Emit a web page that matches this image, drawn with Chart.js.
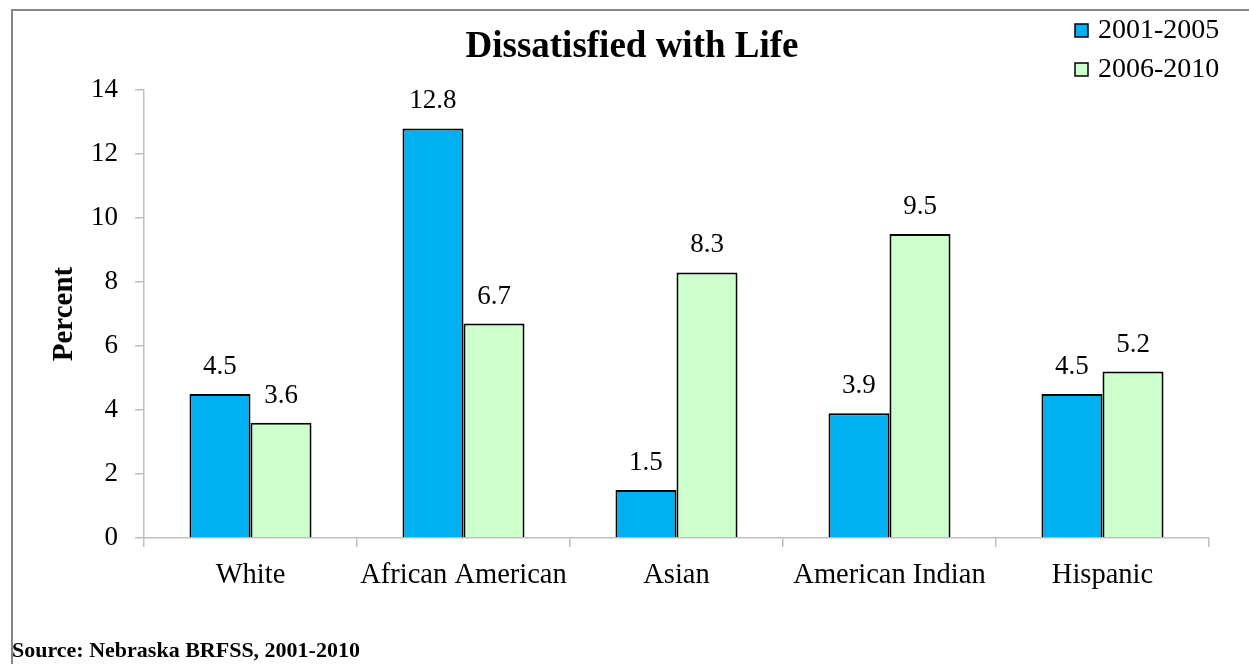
<!DOCTYPE html>
<html>
<head>
<meta charset="utf-8">
<title>Dissatisfied with Life</title>
<script src="https://cdn.jsdelivr.net/npm/chart.js@4/dist/chart.umd.min.js"></script>
<style>
  html, body { margin: 0; padding: 0; background: #ffffff; }
  #wrap { position: relative; width: 1249px; height: 664px; }
  canvas { display: block; }
</style>
</head>
<body>
<div id="wrap"><canvas id="chart" width="1249" height="664"></canvas></div>
<script>
// Groups on the x axis
const categories = ["White", "African American", "Asian", "American Indian", "Hispanic"];
// Series names
const seriesNames = ["2001-2005", "2006-2010"];
// Percent dissatisfied with life, by period
const values2001to2005 = [4.5, 12.8, 1.5, 3.9, 4.5];
const values2006to2010 = [3.6, 6.7, 8.3, 9.5, 5.2];
// Y axis range
const yMin = 0;
const yMax = 14;
const yStep = 2;

const chartTitle = "Dissatisfied with Life";
const yAxisTitle = "Percent";
const sourceNote = "Source: Nebraska BRFSS, 2001-2010";

const SERIF = '"Liberation Serif", "Times New Roman", Times, serif';
const AXIS_GRAY = "#bfbfbf";

// Frame, title, legend, source line and value labels
const decorations = {
  id: "decorations",
  beforeDraw(chart) {
    const ctx = chart.ctx;
    ctx.save();
    ctx.fillStyle = "#ffffff";
    ctx.fillRect(0, 0, chart.width, chart.height);
    // outer frame (open to the right and bottom)
    ctx.strokeStyle = "#868686";
    ctx.lineWidth = 2;
    ctx.beginPath();
    ctx.moveTo(12, chart.height);
    ctx.lineTo(12, 10);
    ctx.lineTo(chart.width, 10);
    ctx.stroke();
    ctx.restore();
  },
  afterDatasetsDraw(chart) {
    const ctx = chart.ctx;
    ctx.save();
    // value labels above each bar
    ctx.fillStyle = "#000000";
    ctx.font = "27px " + SERIF;
    ctx.textAlign = "center";
    ctx.textBaseline = "alphabetic";
    chart.data.datasets.forEach((ds, di) => {
      const meta = chart.getDatasetMeta(di);
      meta.data.forEach((bar, i) => {
        ctx.fillText(ds.data[i].toFixed(1), bar.x, bar.y - 20);
      });
    });

    // title
    ctx.font = "bold 37px " + SERIF;
    ctx.fillText(chartTitle, 632, 57);

    // legend
    ctx.textAlign = "left";
    ctx.font = "28px " + SERIF;
    chart.data.datasets.forEach((ds, di) => {
      const top = 24 + di * 39;
      ctx.fillStyle = ds.backgroundColor;
      ctx.fillRect(1075, top, 13, 13);
      ctx.strokeStyle = "#000000";
      ctx.lineWidth = 1.5;
      ctx.strokeRect(1075, top, 13, 13);
      ctx.fillStyle = "#000000";
      ctx.fillText(ds.label, 1098, top + 14);
    });

    // source note
    ctx.font = "bold 22px " + SERIF;
    ctx.fillText(sourceNote, 12, 657);
    ctx.restore();
  }
};

new Chart(document.getElementById("chart"), {
  type: "bar",
  data: {
    labels: categories,
    datasets: [
      {
        label: seriesNames[0],
        data: values2001to2005,
        backgroundColor: "#00B0F0",
        borderColor: "#000000",
        borderWidth: 2,
        categoryPercentage: 0.573,
        barPercentage: 1.0
      },
      {
        label: seriesNames[1],
        data: values2006to2010,
        backgroundColor: "#CCFFCC",
        borderColor: "#000000",
        borderWidth: 2,
        categoryPercentage: 0.573,
        barPercentage: 1.0
      }
    ]
  },
  options: {
    responsive: false,
    animation: false,
    devicePixelRatio: 1,
    layout: { padding: { left: 0, top: 90, right: 40, bottom: 0 } },
    plugins: {
      legend: { display: false },
      title: { display: false },
      tooltip: { enabled: false }
    },
    scales: {
      x: {
        offset: true,
        grid: {
          offset: true,
          drawOnChartArea: false,
          drawTicks: true,
          tickLength: 9,
          color: AXIS_GRAY,
          lineWidth: 1.5
        },
        border: { color: AXIS_GRAY, width: 1.5 },
        ticks: {
          color: "#000000",
          font: { family: SERIF, size: 28.5 },
          padding: 11,
          maxRotation: 0,
          autoSkip: false
        },
        afterFit(scale) { scale.height = 126; }
      },
      y: {
        min: yMin,
        max: yMax,
        grid: {
          drawOnChartArea: false,
          drawTicks: true,
          tickLength: 9,
          color: AXIS_GRAY,
          lineWidth: 1.5
        },
        border: { color: AXIS_GRAY, width: 1.5 },
        ticks: {
          stepSize: yStep,
          color: "#000000",
          font: { family: SERIF, size: 27 },
          padding: 17
        },
        title: {
          display: true,
          text: yAxisTitle,
          color: "#000000",
          font: { family: SERIF, size: 29, weight: "bold" },
          padding: { top: 47, bottom: 0 }
        },
        afterFit(scale) { scale.width = 144; }
      }
    }
  },
  plugins: [decorations]
});
</script>
</body>
</html>
